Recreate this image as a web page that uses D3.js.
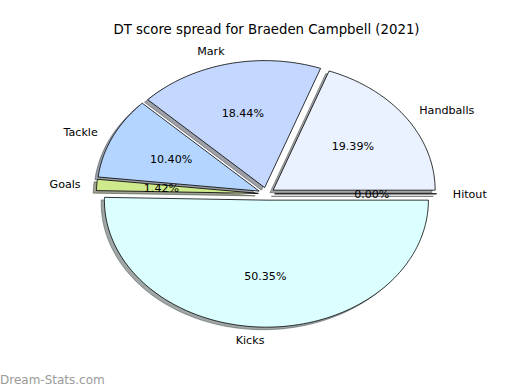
<!DOCTYPE html>
<html>
<head>
<meta charset="utf-8">
<script src="https://cdn.jsdelivr.net/npm/d3@7"></script>
<style>
body{margin:0;background:#fff;}
text{font-family:"DejaVu Sans",sans-serif;}
</style>
</head>
<body>
<div id="chart"></div>
<script>
var W = 520, H = 390;

// wedges in matplotlib order (counterclockwise from 3 o'clock)
var labels = ["Handballs", "Mark", "Tackle", "Goals", "Kicks", "Hitout"];
var pcts = [19.39, 18.44, 10.40, 1.42, 50.35, 0.00];
var colors = ["#ebf2ff", "#c4d8ff", "#b3d5ff", "#cfea8c", "#dbffff", "#e0e0e0"];
var explode = 0.05;

var svg = d3.select('#chart').append('svg')
    .attr('width', W)
    .attr('height', H);

// data coords -> pixels (pie is stretched into an ellipse, like the original)
var x = d3.scaleLinear().domain([0, 1]).range([266.5, 428.5]);
var y = d3.scaleLinear().domain([0, 1]).range([193.8, 66.8]);

var total = d3.sum(pcts);
var wedges = [];
var start = 0;
for (var i = 0; i < pcts.length; i++) {
    var span = pcts[i] / total * 2 * Math.PI;
    var mid = start + span / 2;
    wedges.push({
        label: labels[i],
        pct: pcts[i],
        color: colors[i],
        t1: start,
        t2: start + span,
        ox: explode * Math.cos(mid),
        oy: explode * Math.sin(mid),
        mid: mid
    });
    start += span;
}

var line = d3.line();
function wedgePath(d, sx, sy) {
    var pts = [[x(d.ox) + sx, y(d.oy) + sy]];
    var n = Math.max(2, Math.ceil((d.t2 - d.t1) / (Math.PI / 180)));
    d3.range(n + 1).forEach(function(k) {
        var t = d.t1 + (d.t2 - d.t1) * k / n;
        pts.push([x(d.ox + Math.cos(t)) + sx, y(d.oy + Math.sin(t)) + sy]);
    });
    return line(pts) + "Z";
}

var g = svg.append("g");

// shadows
g.selectAll(".shadow")
    .data(wedges)
    .enter().append("path")
    .attr("class", "shadow")
    .attr("d", function(d){ return wedgePath(d, -(x(0.02) - x(0)), y(0) - y(0.02)); })
    .attr("fill", function(d){
        var c = d3.rgb(d.color);
        return d3.rgb(c.r * 0.3, c.g * 0.3, c.b * 0.3);
    })
    .attr("fill-opacity", 0.5)
    .attr("stroke", function(d){
        var c = d3.rgb(d.color);
        return d3.rgb(c.r * 0.3, c.g * 0.3, c.b * 0.3);
    })
    .attr("stroke-opacity", 0.5)
    .attr("stroke-width", 1);

// wedges
g.selectAll(".wedge")
    .data(wedges)
    .enter().append("path")
    .attr("class", "wedge")
    .attr("d", function(d){ return wedgePath(d, 0, 0); })
    .attr("fill", function(d){ return d.color; })
    .attr("stroke", "#000")
    .attr("stroke-width", 0.8)
    .attr("stroke-linejoin", "round");

// outer labels
g.selectAll(".lbl")
    .data(wedges)
    .enter().append("text")
    .attr("class", "lbl")
    .attr("x", function(d){ return x(d.ox + 1.1 * Math.cos(d.mid)); })
    .attr("y", function(d){ return y(d.oy + 1.1 * Math.sin(d.mid)); })
    .attr("dy", "0.35em")
    .attr("text-anchor", function(d){ return (d.ox + 1.1 * Math.cos(d.mid)) < 0 ? "end" : "start"; })
    .attr("font-size", "11.1px")
    .text(function(d){ return d.label; });

// percentage labels
g.selectAll(".pct")
    .data(wedges)
    .enter().append("text")
    .attr("class", "pct")
    .attr("x", function(d){ return x(d.ox + 0.6 * Math.cos(d.mid)); })
    .attr("y", function(d){ return y(d.oy + 0.6 * Math.sin(d.mid)); })
    .attr("dy", "0.35em")
    .attr("text-anchor", "middle")
    .attr("font-size", "11.1px")
    .text(function(d){ return d.pct.toFixed(2) + "%"; });

svg.append("text")
    .attr("x", 266.5)
    .attr("y", 34)
    .attr("text-anchor", "middle")
    .attr("font-size", "13.3px")
    .text("DT score spread for Braeden Campbell (2021)");

svg.append("text")
    .attr("x", 0)
    .attr("y", 384)
    .attr("font-size", "12px")
    .attr("fill", "#9a9a9a")
    .text("Dream-Stats.com");
</script>
</body>
</html>
